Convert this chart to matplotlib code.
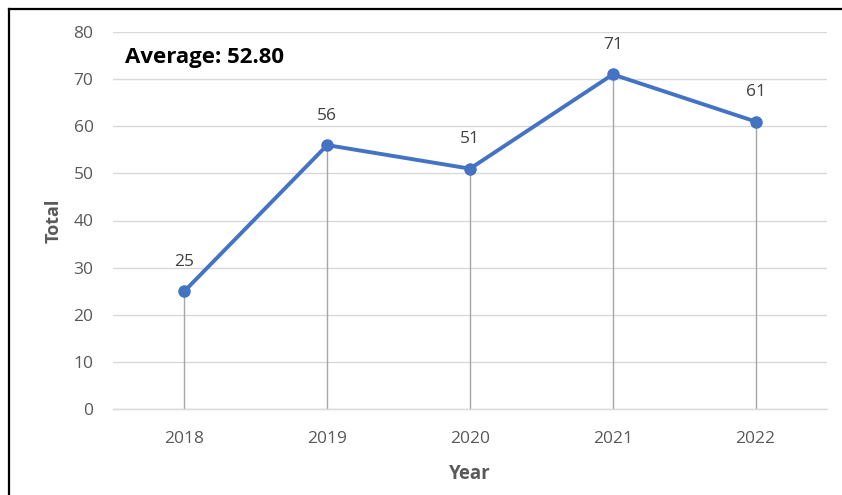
import matplotlib
matplotlib.use("Agg")
import matplotlib.pyplot as plt
from matplotlib.lines import Line2D

years = ["2018", "2019", "2020", "2021", "2022"]
totals = [25, 56, 51, 71, 61]
y_ticks = [0, 10, 20, 30, 40, 50, 60, 70, 80]

plt.rcParams['font.family'] = ['Open Sans', 'DejaVu Sans']

W, H = 842, 495
fig = plt.figure(figsize=(W / 100, H / 100), dpi=100)
ax = fig.add_axes([113 / W, 1 - 409 / H, (827 - 113) / W, (409 - 32) / H])

x = list(range(len(years)))
average = sum(totals) / len(totals)

# drop lines from each point to the axis
ax.vlines(x, 0, totals, colors="#A6A6A6", linewidth=1.0, zorder=2)
ax.plot(x, totals, color="#4472C4", linewidth=2.8, marker="o",
        markersize=8, zorder=3, solid_capstyle="round")

for xi, v in zip(x, totals):
    ax.annotate(f"{v}", (xi, v), xytext=(0, 21), textcoords="offset points",
                ha="center", va="center", fontsize=12.5, color="#404040")

ax.text(125 / W, 1 - 57 / H, f"Average: {average:.2f}", transform=fig.transFigure,
        ha="left", va="center", fontsize=16, fontweight="bold", color="black")

ax.set_xlim(-0.5, len(years) - 0.5)
ax.set_ylim(0, 80)
ax.set_yticks(y_ticks)
ax.set_xticks(x)
ax.set_xticklabels(years)
ax.grid(axis="y", color="#D9D9D9", linewidth=1.0, zorder=0)
ax.set_axisbelow(True)
for side in ["top", "right", "left"]:
    ax.spines[side].set_visible(False)
ax.spines["bottom"].set_color("#D9D9D9")
ax.spines["bottom"].set_linewidth(1.0)
ax.tick_params(axis="both", length=0, labelsize=12.5, labelcolor="#595959")
ax.tick_params(axis="y", pad=14)
ax.tick_params(axis="x", pad=16)

ax.set_ylabel("Total", fontsize=13, fontweight="bold", color="#595959", labelpad=8)
ax.set_xlabel("Year", fontsize=13.5, fontweight="bold", color="#595959", labelpad=12)

# frame on top and left edges
fig.add_artist(Line2D([9 / W, 1], [1 - 9 / H, 1 - 9 / H], transform=fig.transFigure,
                      color="black", linewidth=1.6))
fig.add_artist(Line2D([9 / W, 9 / W], [0, 1 - 9 / H], transform=fig.transFigure,
                      color="black", linewidth=1.6))

fig.savefig("out.png", dpi=100)
